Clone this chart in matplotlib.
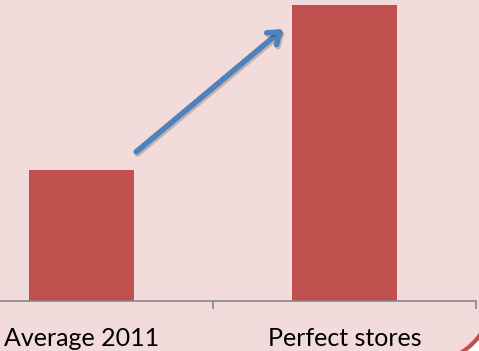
import matplotlib
matplotlib.use('Agg')
import matplotlib.pyplot as plt
import matplotlib.patheffects as pe
from matplotlib.patches import FancyBboxPatch
from matplotlib.transforms import IdentityTransform

plt.rcParams['font.family'] = ['Lato', 'DejaVu Sans']

# data
categories = ['Average 2011', 'Perfect stores']
values = [44.3, 100]

bg = '#F2DCDB'
bar_color = '#C0504D'
arrow_color = '#4F81BD'

fig = plt.figure(figsize=(4.79, 3.51), dpi=100, facecolor='white')

# rounded slide background (only bottom-right corner shows)
bgbox = FancyBboxPatch((-100, -16.5), 597.5, 480, boxstyle='round,pad=0,rounding_size=97.5',
                       transform=IdentityTransform(), facecolor=bg, edgecolor=bar_color,
                       linewidth=3, zorder=-5)
fig.patches.append(bgbox)

ax = fig.add_axes([-50 / 479, 1 - 301 / 351, 526 / 479, 301 / 351])
ax.patch.set_alpha(0)
ax.set_zorder(1)

x = range(len(categories))
ax.bar(x, values, width=0.4, color=bar_color, zorder=2)
ax.set_xlim(-0.5, 1.5)
ax.set_ylim(0, 101.7)

for s in ['top', 'left', 'right']:
    ax.spines[s].set_visible(False)
ax.spines['bottom'].set_color('#868686')
ax.spines['bottom'].set_linewidth(1.2)
ax.set_yticks([])

ax.set_xticks([-0.5, 0.5, 1.5])
ax.set_xticklabels([])
ax.tick_params(axis='x', which='major', length=6, width=1.2, color='#868686', direction='out')
ax.set_xticks(list(x), minor=True)
ax.set_xticklabels(categories, minor=True, fontsize=18, color='black')
ax.tick_params(axis='x', which='minor', length=0, pad=19)

# growth arrow
ax.annotate('', xy=(0.775, values[1] - 7.5), xytext=(0.2, values[0] + 5.5),
            arrowprops=dict(arrowstyle='->,head_length=0.75,head_width=0.55',
                            color=arrow_color, lw=4,
                            path_effects=[pe.SimpleLineShadow(offset=(1, -1.5), alpha=0.2),
                                          pe.Normal()]),
            zorder=3)

fig.savefig('out.png', dpi=100, facecolor='white')
